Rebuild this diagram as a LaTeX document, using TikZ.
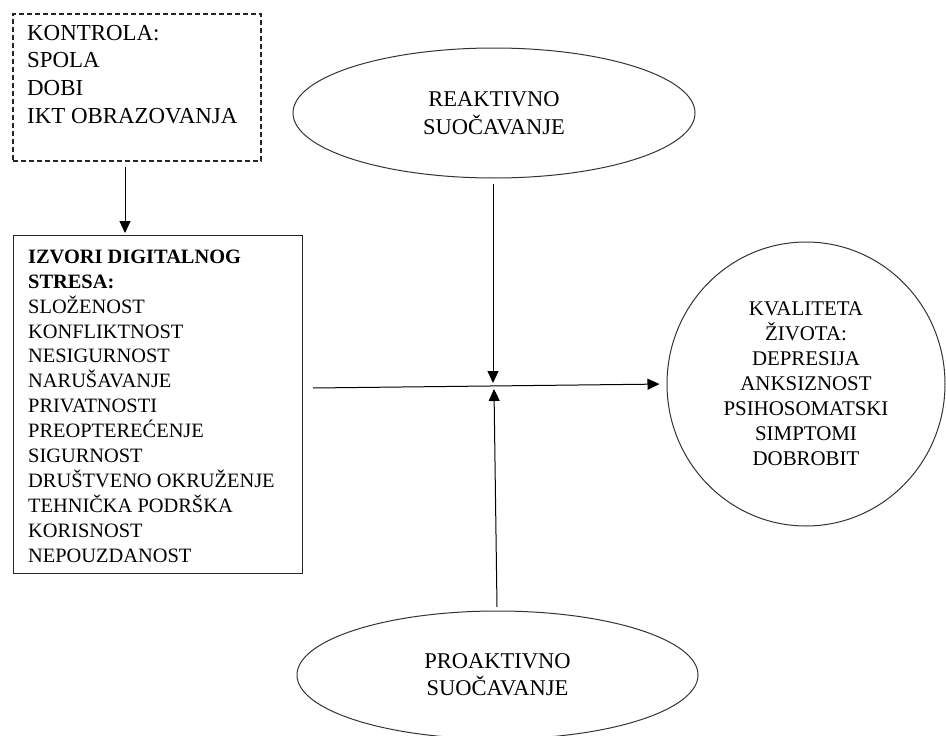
\documentclass[tikz,border=0pt]{standalone}
\usepackage{fontspec}
\setmainfont{Liberation Serif}
\usetikzlibrary{arrows.meta,shapes.geometric}
\begin{document}
\begin{tikzpicture}[x=1pt,y=-1pt,
  arr/.style={draw=black, line width=1pt, -{Triangle[length=12pt,width=11pt]}},
  frame/.style={draw=black!85, line width=1pt, inner sep=0pt},
  dashframe/.style={frame, line width=1.5pt, dash pattern=on 5pt off 3pt},
  oval/.style={ellipse, draw=black!80, line width=1pt, inner sep=0pt, align=center},
  txt/.style={inner sep=0pt, anchor=base west}
]
\useasboundingbox (0,0) rectangle (946,736);

% control variables (dashed box)
\node[dashframe, anchor=north west, minimum width=248pt, minimum height=147pt] (ctrl) at (12,13) {};
\node[txt] (ctrltext) at (27,40) {\fontsize{22.9}{27.7}\selectfont
  \begin{tabular}[t]{@{}l@{}}KONTROLA:\\ SPOLA\\ DOBI\\ IKT OBRAZOVANJA\end{tabular}};

% sources of digital stress
\node[frame, anchor=north west, minimum width=289pt, minimum height=338pt] (izvori) at (12.5,235) {};
\node[txt] (izvoritext) at (28,263.3) {\fontsize{20.4}{24.87}\selectfont
  \begin{tabular}[t]{@{}l@{}}\textbf{IZVORI DIGITALNOG}\\ \textbf{STRESA:}\\ SLOŽENOST\\ KONFLIKTNOST\\
  NESIGURNOST\\ NARUŠAVANJE\\ PRIVATNOSTI\\ PREOPTEREĆENJE\\ SIGURNOST\\
  DRUŠTVENO OKRUŽENJE\\ TEHNIČKA PODRŠKA\\ KORISNOST\\ NEPOUZDANOST\end{tabular}};

% coping styles
\node[oval, minimum width=402pt, minimum height=130pt,
  font={\fontsize{22.5}{28}\selectfont}] (react) at (494,113)
  {REAKTIVNO\\ SUOČAVANJE};
\node[oval, minimum width=401pt, minimum height=128pt,
  font={\fontsize{22.5}{27}\selectfont}] (proact) at (497.5,675)
  {PROAKTIVNO\\ SUOČAVANJE};

% outcome
\node[oval, minimum width=278pt, minimum height=284pt,
  font={\fontsize{20.9}{25}\selectfont}] (kval) at (806,384)
  {KVALITETA\\ ŽIVOTA:\\ DEPRESIJA\\ ANKSIZNOST\\ PSIHOSOMATSKI\\ SIMPTOMI\\ DOBROBIT};

% connector end points
\coordinate (ctrlout) at (125,167);
\coordinate (izvoriin) at (125,233);
\coordinate (reactout) at (493,184);
\coordinate (hubtop) at (493,383);
\coordinate (proactout) at (497,607);
\coordinate (hubbot) at (494,389);
\coordinate (izvoriout) at (313,388);

\draw[arr] (ctrlout) -- (izvoriin);
\draw[arr] (reactout) -- (hubtop);
\draw[arr] (proactout) -- (hubbot);
\draw[arr, shorten >=7pt] (izvoriout) -- (kval.west);
\end{tikzpicture}
\end{document}
